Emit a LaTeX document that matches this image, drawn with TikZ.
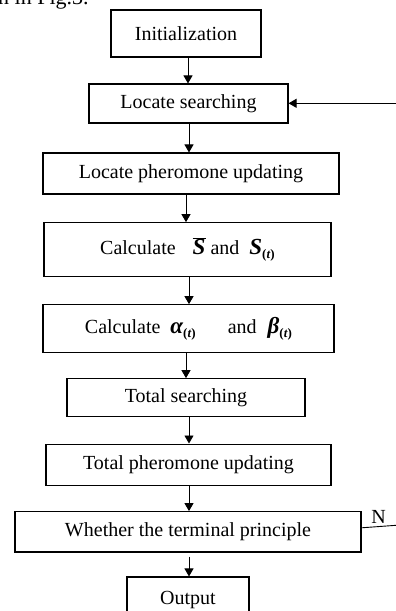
\documentclass[tikz,border=0pt]{standalone}
\usepackage{fontspec}
\setmainfont{Liberation Serif}
\usetikzlibrary{arrows.meta}
\tikzset{
  box/.style={draw=black, line width=1.1pt, rectangle, inner sep=0pt, font=\fontsize{20}{24}\selectfont},
  arr/.style={draw=black, line width=0.9pt, -{Triangle[width=9pt,length=8pt]}},
  conn/.style={draw=black, line width=0.9pt},
  lbl/.style={inner sep=0pt, font=\fontsize{20}{24}\selectfont}
}
\newcommand{\bsym}[1]{{\fontsize{23}{24}\selectfont\bfseries\itshape #1}}
\newcommand{\bsub}[1]{\raisebox{-4pt}{\fontsize{13}{13}\selectfont\bfseries(\textit{#1})}}
\begin{document}
\begin{tikzpicture}[x=1pt,y=-1pt]
\useasboundingbox (0,0) rectangle (396,611);
\clip (0,0) rectangle (396,611);
\node[lbl, anchor=base west, font=\fontsize{22}{26}\selectfont] (cap) at (-2,4) {n in Fig.3.};
\node[box, minimum width=150pt, minimum height=47pt] (init) at (186,33.5) {Initialization};
\node[box, minimum width=199pt, minimum height=39pt] (loc) at (188.5,103.5) {Locate searching};
\node[box, minimum width=296pt, minimum height=41pt] (lph) at (191,173.5) {Locate pheromone updating};
\node[box, minimum width=287pt, minimum height=54pt] (cs) at (187.5,249.7)
  {\raisebox{-5pt}{Calculate\hspace{17pt}$\overline{\hbox{\bsym{S}}}$\hspace{5pt}and\hspace{10pt}\bsym{S}\bsub{t}}};
\node[box, minimum width=291pt, minimum height=47.6pt] (ca) at (188.5,328.5)
  {\raisebox{-7pt}{Calculate\hspace{10pt}\bsym{α}\bsub{t}\hspace{32pt}and\hspace{11pt}\bsym{β}\bsub{t}}};
\node[box, minimum width=238pt, minimum height=37.6pt] (ts) at (186,397.5) {Total searching};
\node[box, minimum width=285pt, minimum height=41.3pt] (tph) at (188.5,464.7) {Total pheromone updating};
\node[box, minimum width=346pt, minimum height=40.3pt] (wh) at (188,531.8) {Whether the terminal principle};
\node[box, minimum width=122pt, minimum height=44pt, text depth=0pt] (out) at (188,599) {\raisebox{3pt}{Output}};
% vertical connectors
\draw[arr] (init.south -| 188,0) -- (loc.north -| 188,0);
\draw[arr] (loc.south -| 189,0) -- (lph.north -| 189,0);
\draw[arr] (lph.south -| 186,0) -- (cs.north -| 186,0);
\draw[arr] (cs.south -| 189,0) -- (ca.north -| 189,0);
\draw[arr] (ca.south -| 186,0) -- (ts.north -| 186,0);
\draw[arr] (ts.south -| 189,0) -- (tph.north -| 189,0);
\draw[arr] (tph.south -| 189,0) -- (wh.north -| 189,0);
\draw[arr, shorten <=4pt] (wh.south -| 189,0) -- (out.north -| 189,0);
% feedback
\coordinate (fbtop) at (396,103.3);
\coordinate (fbbot) at (396,525.3);
\draw[arr] (fbtop) -- (loc.east |- fbtop);
\draw[conn] ([yshift=4pt]wh.east) -- (fbbot);
\node[lbl, anchor=base] (nlab) at (378.5,523) {N};
\end{tikzpicture}
\end{document}
